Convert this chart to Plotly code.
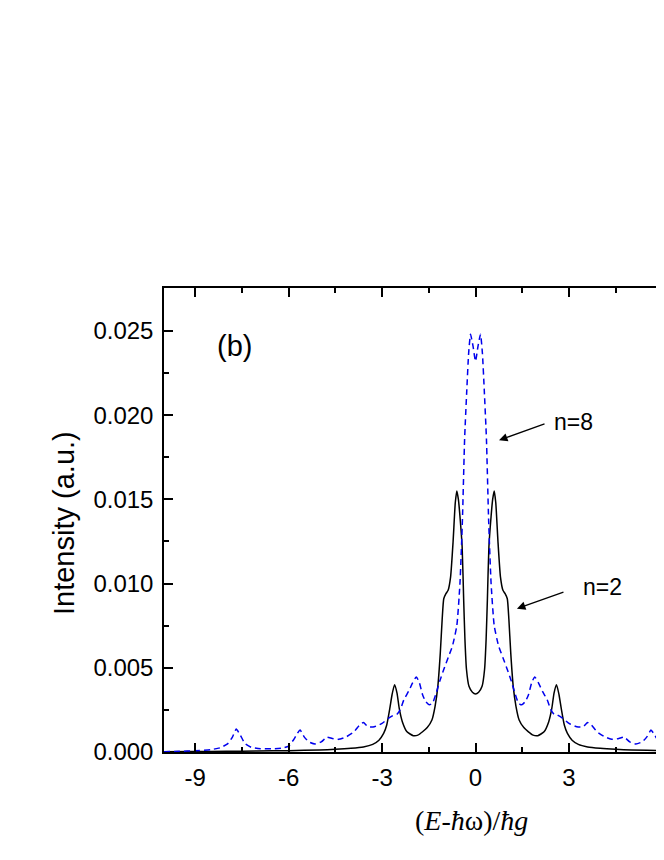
import plotly.graph_objects as go

# n=2 curve (black solid)
x_n2 = [-10.0, -9.0, -8.0, -7.0, -6.0, -5.0, -4.5, -4.0, -3.6, -3.3, -3.1, -2.95, -2.85, -2.75, -2.68,
        -2.6, -2.52, -2.45, -2.35, -2.2, -2.0, -1.85, -1.7, -1.55, -1.4, -1.3, -1.21, -1.13, -1.07,
        -1.02, -0.95, -0.88, -0.8, -0.72, -0.65, -0.6, -0.55, -0.5, -0.43, -0.38, -0.34, -0.29, -0.21,
        -0.1, 0.0,
        0.1, 0.21, 0.29, 0.34, 0.38, 0.43, 0.5, 0.55, 0.6, 0.65, 0.72, 0.8, 0.88, 0.95, 1.02, 1.07,
        1.13, 1.21, 1.3, 1.4, 1.55, 1.7, 1.85, 2.0, 2.2, 2.35, 2.45, 2.52, 2.6, 2.68, 2.75, 2.85, 2.95,
        3.1, 3.3, 3.6, 4.0, 4.5, 5.0, 6.0, 7.0, 8.0, 9.0, 10.0]
y_n2 = [0.00002, 0.00003, 0.00004, 0.00006, 0.00008, 0.00012, 0.00016, 0.00022, 0.0003, 0.00045,
        0.0007, 0.0011, 0.0016, 0.0026, 0.0034, 0.0040, 0.0035, 0.0026, 0.0018, 0.0012, 0.00097,
        0.0010, 0.0012, 0.00145, 0.0019, 0.0027, 0.0039, 0.0059, 0.0079, 0.0091, 0.0094, 0.0096,
        0.0104, 0.0125, 0.0148, 0.0155, 0.0150, 0.0140, 0.0122, 0.0090, 0.0067, 0.0049, 0.0039,
        0.00355, 0.00345,
        0.00355, 0.0039, 0.0049, 0.0067, 0.0090, 0.0122, 0.0140, 0.0150, 0.0155, 0.0148, 0.0125,
        0.0104, 0.0096, 0.0094, 0.0091, 0.0079, 0.0059, 0.0039, 0.0027, 0.0019, 0.00145, 0.0012,
        0.0010, 0.00097, 0.0012, 0.0018, 0.0026, 0.0035, 0.0040, 0.0034, 0.0026, 0.0016, 0.0011,
        0.0007, 0.00045, 0.0003, 0.00022, 0.00016, 0.00012, 0.00008, 0.00006, 0.00004, 0.00003,
        0.00002]

# n=8 curve (blue dashed)
x_n8 = [-10.0, -9.5, -9.0, -8.5, -8.2, -7.95, -7.8, -7.68, -7.55, -7.4, -7.2, -6.9, -6.5, -6.2,
        -6.0, -5.85, -5.72, -5.63, -5.5, -5.35, -5.15, -4.95, -4.77, -4.6, -4.4, -4.15, -3.9, -3.72,
        -3.6, -3.45, -3.25, -3.0, -2.8, -2.62, -2.52, -2.42, -2.3, -2.15, -2.02, -1.9, -1.8, -1.7,
        -1.6, -1.48, -1.38, -1.28, -1.15, -1.02, -0.88, -0.74, -0.6, -0.5, -0.42, -0.35, -0.28,
        -0.22, -0.16, -0.08, 0.0,
        0.08, 0.16, 0.22, 0.28, 0.35, 0.42, 0.5, 0.6, 0.74, 0.88, 1.02, 1.15, 1.28, 1.38, 1.48, 1.6,
        1.7, 1.8, 1.9, 2.02, 2.15, 2.3, 2.42, 2.52, 2.62, 2.8, 3.0, 3.25, 3.45, 3.6, 3.72, 3.9, 4.15,
        4.4, 4.6, 4.77, 4.95, 5.15, 5.35, 5.5, 5.63, 5.72, 5.85, 6.0, 6.2, 6.5, 6.9, 7.2, 7.4, 7.55,
        7.68, 7.8, 7.95, 8.2, 8.5, 9.0, 9.5, 10.0]
y_n8 = [0.00002, 0.00004, 0.00008, 0.00014, 0.00025, 0.0005, 0.0009, 0.00136, 0.0010, 0.0005,
        0.00028, 0.0002, 0.00019, 0.00024, 0.00035, 0.0007, 0.0011, 0.0013, 0.0009, 0.0006, 0.00048,
        0.0006, 0.00088, 0.0008, 0.00075, 0.0009, 0.0012, 0.0016, 0.00175, 0.0015, 0.0015, 0.0017,
        0.0020, 0.0022, 0.00225, 0.0025, 0.0031, 0.0036, 0.0041, 0.00446, 0.0041, 0.0034, 0.0030,
        0.0028, 0.0029, 0.0034, 0.0042, 0.0049, 0.0056, 0.0063, 0.0075, 0.0100, 0.0138, 0.0186,
        0.0215, 0.0237, 0.0248, 0.0241, 0.0232,
        0.0241, 0.0248, 0.0237, 0.0215, 0.0186, 0.0138, 0.0100, 0.0075, 0.0063, 0.0056, 0.0049,
        0.0042, 0.0034, 0.0029, 0.0028, 0.0030, 0.0034, 0.0041, 0.00446, 0.0041, 0.0036, 0.0031,
        0.0025, 0.00225, 0.0022, 0.0020, 0.0017, 0.0015, 0.0015, 0.00175, 0.0016, 0.0012, 0.0009,
        0.00075, 0.0008, 0.00088, 0.0006, 0.00048, 0.0006, 0.0009, 0.0013, 0.0011, 0.0007, 0.00035,
        0.00024, 0.00019, 0.0002, 0.00028, 0.0005, 0.0010, 0.00136, 0.0009, 0.0005, 0.00025,
        0.00014, 0.00008, 0.00004, 0.00002]

x_ticks = [-9, -6, -3, 0, 3, 6, 9]
x_ticklabels = ["-9", "-6", "-3", "0", "3", "6", "9"]
y_ticks = [0.0, 0.005, 0.010, 0.015, 0.020, 0.025]
y_ticklabels = ["0.000", "0.005", "0.010", "0.015", "0.020", "0.025"]
x_title = "(<i>E</i>-<i>ħ</i>ω)/<i>ħg</i>"
y_title = "Intensity (a.u.)"

fig = go.Figure()
fig.add_trace(go.Scatter(x=x_n2, y=y_n2, mode="lines", name="n=2",
                         line=dict(color="black", width=1.5, shape="spline", smoothing=0.5)))
fig.add_trace(go.Scatter(x=x_n8, y=y_n8, mode="lines", name="n=8",
                         line=dict(color="#0000ee", width=1.5, dash="6px,4px", shape="spline",
                                   smoothing=0.5)))

sans = "Liberation Sans, Arial, sans-serif"
tickfont = dict(family=sans, size=24, color="black")

fig.update_layout(
    width=656, height=832,
    margin=dict(l=156, r=0, t=280, b=88),
    paper_bgcolor="white", plot_bgcolor="white",
    showlegend=False,
    xaxis=dict(
        range=[-10, 6.05], tickmode="array", tickvals=x_ticks, ticktext=x_ticklabels,
        ticks="inside", ticklen=9, tickwidth=1.5, tickcolor="black",
        minor=dict(ticks="inside", ticklen=5, tickwidth=1.5, tickcolor="black", dtick=1.5, tick0=0,
                   showgrid=False),
        showline=True, linecolor="black", linewidth=1.5, mirror="ticks",
        showgrid=False, zeroline=False, tickfont=tickfont, ticklabelstandoff=3,
    ),
    yaxis=dict(
        range=[0, 0.02755], tickmode="array", tickvals=y_ticks, ticktext=y_ticklabels,
        ticks="inside", ticklen=9, tickwidth=1.5, tickcolor="black",
        minor=dict(ticks="inside", ticklen=5, tickwidth=1.5, tickcolor="black", dtick=0.0025,
                   tick0=0, showgrid=False),
        showline=True, linecolor="black", linewidth=1.5, mirror=False,
        showgrid=False, zeroline=False, tickfont=tickfont, ticklabelstandoff=4,
    ),
    annotations=[
        # axis titles
        dict(x=-0.14, y=0, xref="x", yref="paper", yshift=-68, text=x_title, showarrow=False,
             xanchor="center", yanchor="middle",
             font=dict(family="Liberation Serif, Times New Roman, serif", size=28, color="black")),
        dict(x=0, y=0.5, xref="paper", yref="paper", xshift=-100, text=y_title, showarrow=False,
             textangle=-90, xanchor="center", yanchor="middle", yshift=-3,
             font=dict(family=sans, size=29, color="black")),
        # labels
        dict(x=-7.75, y=0.02411, xref="x", yref="y", text="(b)", showarrow=False,
             font=dict(family=sans, size=29, color="black")),
        dict(x=3.16, y=0.01958, xref="x", yref="y", text="n=8", showarrow=False,
             font=dict(family=sans, size=23, color="black")),
        dict(x=4.09, y=0.00982, xref="x", yref="y", text="n=2", showarrow=False,
             font=dict(family=sans, size=23, color="black")),
        dict(x=0.754, y=0.01851, xref="x", yref="y", text="", showarrow=True,
             ax=47, ay=-17, axref="pixel", ayref="pixel",
             arrowhead=2, arrowsize=1.3, arrowwidth=1.3, arrowcolor="black"),
        dict(x=1.33, y=0.00851, xref="x", yref="y", text="", showarrow=True,
             ax=48, ay=-17, axref="pixel", ayref="pixel",
             arrowhead=2, arrowsize=1.3, arrowwidth=1.3, arrowcolor="black"),
    ],
)

fig.write_html("out.html")
